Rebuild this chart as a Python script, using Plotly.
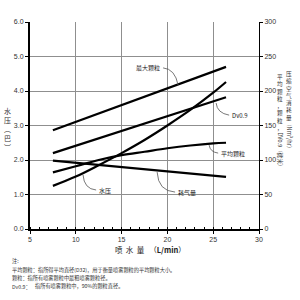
import plotly.graph_objects as go

# ---- data ----
x_water = [7.5, 10, 12.5, 15, 17.5, 20, 22.5, 25, 26.4]
water_pressure = [1.25, 1.52, 1.85, 2.2, 2.58, 3.0, 3.45, 3.95, 4.26]   # bar (left axis)

x_mean = [7.5, 10, 12.5, 15, 17.5, 20, 22.5, 25, 26.4]
mean_particle = [82, 91, 100, 107, 112, 117, 121, 124, 125]           # µm (right axis)

x_dv = [7.5, 26.4]
dv09 = [110, 191]

x_max = [7.5, 26.4]
max_particle = [143, 235]

x_air = [7.5, 17.5, 26.4]
air_consumption = [99, 86, 75.5]                                      # Nm3/hr (right axis)

x_ticks = [5, 10, 15, 20, 25, 30]
left_ticks = [0, 1, 2, 3, 4, 5, 6]
right_ticks = [0, 50, 100, 150, 200, 250, 300]

CJK = "Noto Sans CJK SC"
NUM = "Liberation Sans"

fig = go.Figure()
lw = 2.2
fig.add_trace(go.Scatter(x=x_max, y=max_particle, yaxis="y2", mode="lines",
                         line=dict(color="black", width=lw), name="最大颗粒"))
fig.add_trace(go.Scatter(x=x_dv, y=dv09, yaxis="y2", mode="lines",
                         line=dict(color="black", width=lw), name="DV0.9"))
fig.add_trace(go.Scatter(x=x_mean, y=mean_particle, yaxis="y2", mode="lines",
                         line=dict(color="black", width=lw, shape="spline"), name="平均颗粒"))
fig.add_trace(go.Scatter(x=x_air, y=air_consumption, yaxis="y2", mode="lines",
                         line=dict(color="black", width=lw), name="耗气量"))
fig.add_trace(go.Scatter(x=x_water, y=water_pressure, yaxis="y", mode="lines",
                         line=dict(color="black", width=lw, shape="spline"), name="水压"))

grid = "#8f8f8f"
fig.update_layout(
    width=300, height=300,
    margin=dict(l=30, r=41, t=22, b=71),
    paper_bgcolor="white", plot_bgcolor="white",
    showlegend=False,
    xaxis=dict(range=[5, 30], tickvals=x_ticks, showgrid=True, gridcolor=grid, gridwidth=1,
               showline=True, linecolor="black", linewidth=1.5, zeroline=False,
               ticks="outside", ticklen=3, tickcolor="black",
               minor=dict(dtick=1, ticks="inside", ticklen=2, tickcolor="black", showgrid=False),
               tickfont=dict(family=NUM, size=7, color="#333")),
    yaxis=dict(range=[0, 6], tickvals=left_ticks, tickformat=".1f", showgrid=True,
               gridcolor=grid, gridwidth=1, showline=True, linecolor="black", linewidth=2,
               zeroline=False, ticks="outside", ticklen=3, tickcolor="black",
               tickfont=dict(family=NUM, size=7, color="#333")),
    yaxis2=dict(range=[0, 300], tickvals=right_ticks, overlaying="y", side="right",
                showgrid=False, showline=True, linecolor="black", linewidth=1,
                zeroline=False, ticks="outside", ticklen=3, tickcolor="black",
                tickfont=dict(family=NUM, size=7, color="#333")),
)

# ---- callout curves ----
callouts = [
    ((21.17, 4.17), (20.84, 4.64), (19.53, 4.67)),
    ((25.32, 3.65), (25.43, 3.36), (26.74, 3.30)),
    ((24.56, 2.43), (24.67, 2.23), (25.54, 2.20)),
    ((18.88, 1.65), (18.99, 1.10), (20.84, 1.07)),
    ((10.79, 1.57), (10.90, 1.16), (12.22, 1.13)),
]
for (a, c, b) in callouts:
    fig.add_shape(type="path", xref="x", yref="y",
                  path=f"M {a[0]},{a[1]} Q {c[0]},{c[1]} {b[0]},{b[1]}",
                  line=dict(color="#555", width=0.8))

labels = [
    ("最大颗粒", 19.45, 4.67, "right"),
    ("Dv0.9", 26.8, 3.30, "left"),
    ("平均颗粒", 25.6, 2.20, "left"),
    ("耗气量", 20.9, 1.07, "left"),
    ("水压", 12.3, 1.12, "left"),
]
for t, x, y, xa in labels:
    fig.add_annotation(text=t, x=x, y=y, xref="x", yref="y", xanchor=xa, yanchor="middle",
                       showarrow=False, font=dict(family=CJK, size=6, color="#222"))


def px(p):
    return (p - 30) / 229


def py(p):
    return (229 - p) / 207


# left axis label (vertical, upright characters)
fig.add_annotation(text="水<br>压<br>︵<br>巴<br>︶", x=px(7), y=py(104), xref="paper",
                   yref="paper", showarrow=False, xanchor="center", yanchor="top",
                   font=dict(family=CJK, size=7, color="#333"))

# right axis labels: two vertical columns (upright CJK + rotated latin part)
fig.add_annotation(text="<br>".join("压缩空气消耗量"), x=px(289), y=py(68),
                   xref="paper", yref="paper", showarrow=False, xanchor="center",
                   yanchor="top", font=dict(family=CJK, size=5.6, color="#333"))
fig.add_annotation(text="（Nm³/hr）", x=px(289), y=py(119), xref="paper", yref="paper",
                   showarrow=False, textangle=90, xanchor="center", yanchor="top",
                   font=dict(family=CJK, size=5.6, color="#333"))

fig.add_annotation(text="<br>".join("平均颗粒，颗粒，"), x=px(280), y=py(71),
                   xref="paper", yref="paper", showarrow=False, xanchor="center",
                   yanchor="top", font=dict(family=CJK, size=5.6, color="#333"))
fig.add_annotation(text="DV0.9（微米）", x=px(280), y=py(130), xref="paper", yref="paper",
                   showarrow=False, textangle=90, xanchor="center", yanchor="top",
                   font=dict(family=CJK, size=5.6, color="#333"))

# x axis title
fig.add_annotation(text="喷  水  量   （<b>L/min</b>）", x=px(150), y=py(249),
                   xref="paper", yref="paper", showarrow=False,
                   xanchor="center", yanchor="middle",
                   font=dict(family=CJK, size=7.5, color="#222"))

# notes
notes = [
    ("注:", 10, 261),
    ("平均颗粒：指所得平均直径(D32)，用于衡量喷雾颗粒的平均颗粒大小。", 10, 270),
    ("颗粒：指所有喷雾颗粒中最粗喷雾颗粒径。", 10, 278),
    ("Dv0.9：", 10, 286),
    ("指所有喷雾颗粒中，90%的颗粒直径。", 33, 286),
]
for t, x, y in notes:
    fig.add_annotation(text=t, x=px(x), y=py(y), xref="paper", yref="paper",
                       showarrow=False, xanchor="left", yanchor="middle",
                       font=dict(family=CJK, size=5.2, color="#333"))

fig.write_html("out.html")
